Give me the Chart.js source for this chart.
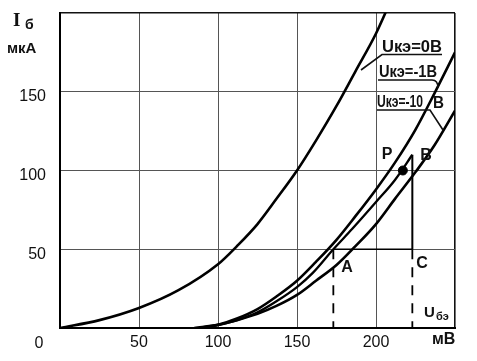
<!DOCTYPE html>
<html><head><meta charset="utf-8">
<script src="https://cdn.jsdelivr.net/npm/chart.js@4.4.1/dist/chart.umd.min.js"></script>
<style>html,body{margin:0;padding:0;background:#fff}canvas{display:block}</style>
</head><body>
<canvas id="c" width="477" height="361"></canvas>
<script>
// ---- data (U_бэ in мВ, I_б in мкА) ----
const xTickLabels = [50, 100, 150, 200];
const yTickLabels = [50, 100, 150];

const uce0_x = [0, 25, 50, 75, 100, 112, 125, 137, 150, 162, 175, 187, 200, 212];
const uce0_y = [0, 5, 12.7, 24, 40.5, 52, 66, 82, 100, 119, 141, 163, 187, 214];

const uce1_x = [88, 100, 112, 125, 137, 150, 162, 175, 187, 200, 212, 225, 237, 250];
const uce1_y = [0, 2, 6, 12, 20, 30, 42, 56, 71, 88, 105, 126, 149, 175];

const mid_x = [90, 100, 112, 125, 137, 150, 160, 173, 185, 200, 212, 223];
const mid_y = [0, 2, 5, 10, 17, 26, 35, 50, 63, 80, 94, 110];

const uce10_x = [85, 100, 112, 125, 137, 150, 162, 175, 187, 200, 212, 225, 237, 250];
const uce10_y = [0, 2, 5, 9, 14, 21, 30, 40, 52, 66, 82, 99, 116, 138];

const pointA = [173, 50];
const pointB = [223, 110];
const pointC = [223, 50];
const pointP = [217, 100];

const zip = (xs, ys) => xs.map((x, i) => ({x, y: ys[i]}));
const seg = (a, b) => [{x: a[0], y: a[1]}, {x: b[0], y: b[1]}];

const curveStyle = {showLine: true, borderColor: '#000', borderWidth: 2.6, pointRadius: 0, fill: false, cubicInterpolationMode: 'monotone'};

const labelsPlugin = {
  id: 'labels',
  afterDraw(chart) {
    const ctx = chart.ctx, ca = chart.chartArea;
    const sx = chart.scales.x, sy = chart.scales.y;
    const X = v => sx.getPixelForValue(v), Y = v => sy.getPixelForValue(v);
    ctx.save();
    ctx.fillStyle = '#111';
    ctx.strokeStyle = '#111';
    ctx.textBaseline = 'alphabetic';
    ctx.textAlign = 'left';
    const txt = (s, x, y, font, w) => { ctx.font = font; if (w) ctx.fillText(s, x, y, w); else ctx.fillText(s, x, y); };
    const line = (pts, w) => { ctx.lineWidth = w; ctx.beginPath(); ctx.moveTo(pts[0][0], pts[0][1]); for (let i = 1; i < pts.length; i++) ctx.lineTo(pts[i][0], pts[i][1]); ctx.stroke(); };
    const F = 'bold 17px "Liberation Sans", Arial, sans-serif';
    const FP = 'bold 16px "Liberation Sans", Arial, sans-serif';
    // origin
    ctx.textAlign = 'center';
    txt('0', ca.left - 21, ca.bottom + 20, '16px "Liberation Sans", Arial, sans-serif');
    ctx.textAlign = 'left';
    // y axis title
    txt('I', 13, 26, 'bold 19px "Liberation Serif", serif');
    txt('б', 25, 29, 'bold 14px "Liberation Sans", sans-serif');
    txt('мкА', 7, 53, 'bold 15px "Liberation Sans", sans-serif');
    // x axis title
    txt('U', 424, 317, 'bold 15px "Liberation Sans", sans-serif');
    txt('бэ', 436, 320, 'bold 11px "Liberation Sans", sans-serif');
    txt('мВ', 432, 344, 'bold 16px "Liberation Sans", sans-serif');
    // curve labels
    txt('Uкэ=0В', 382, 52, F, 60);
    line([[361, 70], [382, 54.5], [442, 54.5]], 1.6);
    txt('Uкэ=-1В', 379, 77, F, 58);
    ctx.lineWidth = 1.6; ctx.beginPath(); ctx.moveTo(378, 80); ctx.lineTo(432, 80); ctx.quadraticCurveTo(438, 80, 438, 88); ctx.stroke();
    txt('Uкэ=-10', 377, 107, F, 46);
    txt('В', 433, 108, F, 11);
    line([[377, 110], [430, 110], [443, 130]], 1.6);
    // point labels
    txt('P', X(pointP[0]) - 21, Y(pointP[1]) - 12, FP);
    txt('B', X(pointB[0]) + 8, Y(pointB[1]) + 5, FP);
    txt('A', X(pointA[0]) + 8, Y(pointA[1]) + 23, FP);
    txt('C', X(pointC[0]) + 4, Y(pointC[1]) + 19, FP);
    ctx.restore();
  }
};

new Chart(document.getElementById('c'), {
  type: 'scatter',
  data: {
    datasets: [
      Object.assign({data: zip(uce0_x, uce0_y)}, curveStyle),
      Object.assign({data: zip(uce1_x, uce1_y)}, curveStyle),
      Object.assign({data: zip(mid_x, mid_y)}, curveStyle, {borderWidth: 2.3}),
      Object.assign({data: zip(uce10_x, uce10_y)}, curveStyle),
      {data: seg(pointB, pointC), showLine: true, borderColor: '#000', borderWidth: 2, pointRadius: 0},
      {data: seg(pointA, pointC), showLine: true, borderColor: '#000', borderWidth: 1.6, pointRadius: 0},
      {data: seg(pointA, [pointA[0], 0]), showLine: true, borderColor: '#000', borderWidth: 1.8, borderDash: [10, 8], pointRadius: 0},
      {data: seg(pointC, [pointC[0], 0]), showLine: true, borderColor: '#000', borderWidth: 1.8, borderDash: [10, 8], pointRadius: 0},
      {data: [{x: pointP[0], y: pointP[1]}], showLine: false, pointRadius: 4.5, pointBackgroundColor: '#000', pointBorderColor: '#000'}
    ]
  },
  options: {
    responsive: false,
    animation: false,
    devicePixelRatio: 1,
    layout: {padding: {left: 0, right: 22, top: 13, bottom: 0}},
    plugins: {legend: {display: false}, tooltip: {enabled: false}},
    scales: {
      x: {
        type: 'linear', min: 0, max: 250,
        afterFit(s) { s.height = 33; s.paddingLeft = 0; s.paddingRight = 0; },
        ticks: {stepSize: 50, autoSkip: false, maxRotation: 0, padding: 5, color: '#111',
          font: {family: '"Liberation Sans", Arial, sans-serif', size: 16},
          callback: v => xTickLabels.includes(v) ? String(v) : ''},
        grid: {drawTicks: false, color: c => (c.tick && c.tick.value === 250) ? '#111' : '#555',
          lineWidth: c => (c.tick && c.tick.value === 250) ? 1.6 : 1},
        border: {display: true, color: '#000', width: 2}
      },
      y: {
        type: 'linear', min: 0, max: 200,
        afterFit(s) { s.width = 60; s.paddingTop = 0; s.paddingBottom = 0; },
        ticks: {stepSize: 50, autoSkip: false, padding: 14, labelOffset: 5, color: '#111',
          font: {family: '"Liberation Sans", Arial, sans-serif', size: 16},
          callback: v => yTickLabels.includes(v) ? String(v) : ''},
        grid: {drawTicks: false, color: c => (c.tick && c.tick.value === 200) ? '#111' : '#555',
          lineWidth: c => (c.tick && c.tick.value === 200) ? 1.6 : 1},
        border: {display: true, color: '#000', width: 2}
      }
    }
  },
  plugins: [labelsPlugin]
});
</script>
</body></html>
